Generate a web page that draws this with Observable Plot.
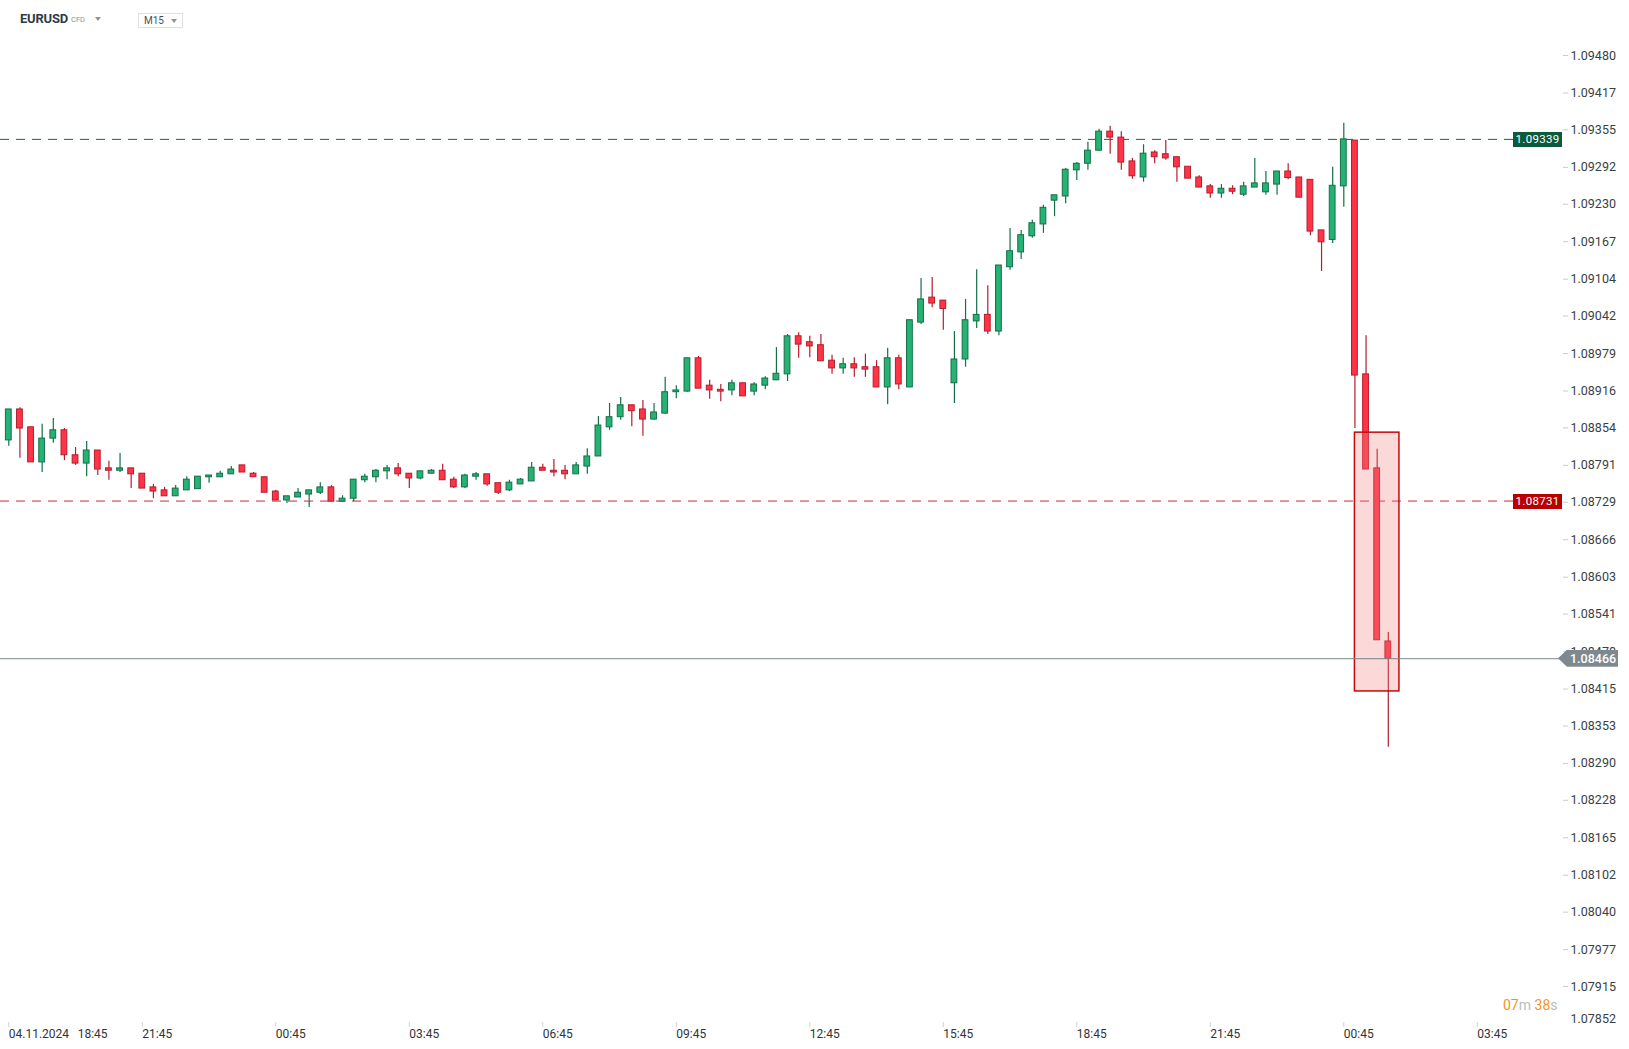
<!DOCTYPE html>
<html><head><meta charset="utf-8">
<script src="https://cdn.jsdelivr.net/npm/d3@7"></script>
<script src="https://cdn.jsdelivr.net/npm/@observablehq/plot@0.6"></script>
<style>
body{margin:0;background:#fff;font-family:Roboto,"Noto Sans",sans-serif;}
#wrap{position:relative;width:1629px;height:1049px;overflow:hidden;background:#fff;}
.ov{position:absolute;white-space:nowrap;}
.caret{position:absolute;width:0;height:0;border-left:3.5px solid transparent;border-right:3.5px solid transparent;border-top:4px solid #8c949a;}
.plabel{position:absolute;color:#fff;font-size:11.5px;text-align:center;line-height:15px;height:15px;width:49px;letter-spacing:0.3px;}
</style></head><body><div id="wrap"></div>
<script>
// ---- data (EURUSD CFD, M15) ----
const startTime = "2024-11-04T18:45:00Z";
const stepMinutes = 15;
const open = [1.08833,1.08885,1.08855,1.08796,1.08836,1.08850,1.08808,1.08794,1.08816,1.08786,
1.08782,1.08786,1.08777,1.08754,1.08749,1.08739,1.08749,1.08751,1.08771,1.08771,
1.08776,1.08791,1.08777,1.08771,1.08747,1.08732,1.08737,1.08742,1.08745,1.08754,
1.08730,1.08735,1.08766,1.08771,1.08781,1.08786,1.08777,1.08769,1.08777,1.08782,
1.08767,1.08754,1.08772,1.08776,1.08761,1.08749,1.08759,1.08764,1.08787,1.08782,
1.08782,1.08776,1.08789,1.08806,1.08855,1.08872,1.08892,1.08885,1.08868,1.08878,
1.08914,1.08915,1.08971,1.08925,1.08918,1.08917,1.08929,1.08915,1.08925,1.08934,
1.08944,1.09008,1.08998,1.08993,1.08967,1.08954,1.08961,1.08956,1.08956,1.08922,
1.08971,1.08922,1.09031,1.09073,1.09068,1.08929,1.08969,1.09033,1.09044,1.09016,
1.09124,1.09149,1.09176,1.09196,1.09236,1.09243,1.09287,1.09298,1.09320,1.09352,
1.09342,1.09302,1.09275,1.09317,1.09314,1.09309,1.09293,1.09275,1.09260,1.09248,
1.09256,1.09246,1.09258,1.09250,1.09263,1.09285,1.09275,1.09271,1.09186,1.09170,
1.09260,1.09337,1.08944,1.08786,1.08495];
const high = [1.08885,1.08888,1.08855,1.08860,1.08870,1.08853,1.08821,1.08831,1.08816,1.08798,
1.08811,1.08786,1.08777,1.08759,1.08754,1.08757,1.08772,1.08772,1.08774,1.08781,
1.08789,1.08791,1.08779,1.08771,1.08749,1.08739,1.08752,1.08749,1.08762,1.08757,
1.08740,1.08767,1.08776,1.08784,1.08791,1.08794,1.08777,1.08781,1.08784,1.08793,
1.08771,1.08776,1.08779,1.08776,1.08761,1.08766,1.08769,1.08796,1.08793,1.08801,
1.08791,1.08796,1.08819,1.08873,1.08895,1.08905,1.08892,1.08900,1.08895,1.08939,
1.08925,1.08971,1.08974,1.08934,1.08927,1.08934,1.08929,1.08930,1.08940,1.08989,
1.09011,1.09014,1.09008,1.09011,1.08976,1.08971,1.08972,1.08978,1.08967,1.08988,
1.08976,1.09035,1.09105,1.09107,1.09068,1.09016,1.09070,1.09120,1.09093,1.09127,
1.09189,1.09186,1.09203,1.09228,1.09245,1.09290,1.09300,1.09334,1.09356,1.09361,
1.09352,1.09307,1.09330,1.09320,1.09337,1.09309,1.09293,1.09278,1.09263,1.09263,
1.09261,1.09267,1.09307,1.09285,1.09285,1.09298,1.09275,1.09271,1.09186,1.09292,
1.09366,1.09337,1.09009,1.08818,1.08510];
const low = [1.08823,1.08803,1.08796,1.08779,1.08828,1.08799,1.08791,1.08772,1.08774,1.08766,
1.08779,1.08752,1.08752,1.08735,1.08739,1.08739,1.08749,1.08751,1.08761,1.08771,
1.08776,1.08779,1.08771,1.08745,1.08732,1.08727,1.08737,1.08720,1.08742,1.08729,
1.08729,1.08730,1.08762,1.08762,1.08767,1.08772,1.08752,1.08767,1.08777,1.08766,
1.08752,1.08752,1.08766,1.08756,1.08742,1.08747,1.08759,1.08764,1.08782,1.08772,
1.08767,1.08776,1.08776,1.08806,1.08850,1.08867,1.08856,1.08840,1.08867,1.08877,
1.08903,1.08914,1.08920,1.08902,1.08898,1.08908,1.08907,1.08908,1.08918,1.08934,
1.08932,1.08971,1.08972,1.08966,1.08944,1.08944,1.08939,1.08939,1.08922,1.08893,
1.08918,1.08922,1.09028,1.09056,1.09018,1.08895,1.08956,1.09021,1.09011,1.09009,
1.09119,1.09137,1.09173,1.09181,1.09209,1.09231,1.09270,1.09287,1.09319,1.09314,
1.09287,1.09272,1.09267,1.09298,1.09304,1.09267,1.09273,1.09258,1.09240,1.09240,
1.09246,1.09243,1.09258,1.09245,1.09245,1.09271,1.09241,1.09177,1.09117,1.09164,
1.09225,1.08853,1.08784,1.08497,1.08317];
const close = [1.08885,1.08853,1.08796,1.08836,1.08850,1.08808,1.08794,1.08816,1.08784,1.08782,
1.08786,1.08776,1.08752,1.08747,1.08739,1.08752,1.08767,1.08772,1.08774,1.08777,
1.08784,1.08779,1.08771,1.08745,1.08732,1.08739,1.08745,1.08749,1.08754,1.08730,
1.08735,1.08767,1.08772,1.08782,1.08786,1.08776,1.08769,1.08781,1.08782,1.08766,
1.08754,1.08774,1.08776,1.08759,1.08745,1.08762,1.08767,1.08787,1.08782,1.08779,
1.08776,1.08791,1.08806,1.08858,1.08872,1.08892,1.08882,1.08868,1.08880,1.08914,
1.08917,1.08971,1.08920,1.08917,1.08915,1.08929,1.08907,1.08927,1.08937,1.08945,
1.09008,1.08994,1.08991,1.08966,1.08954,1.08961,1.08954,1.08952,1.08922,1.08971,
1.08927,1.09035,1.09070,1.09063,1.09054,1.08969,1.09035,1.09044,1.09016,1.09127,
1.09151,1.09178,1.09198,1.09224,1.09245,1.09288,1.09298,1.09320,1.09352,1.09342,
1.09300,1.09277,1.09315,1.09309,1.09307,1.09292,1.09273,1.09258,1.09248,1.09256,
1.09251,1.09260,1.09265,1.09265,1.09285,1.09274,1.09241,1.09184,1.09166,1.09261,
1.09339,1.08942,1.08784,1.08497,1.08466];

const yTickLabels = ["1.09480","1.09417","1.09355","1.09292","1.09230","1.09167","1.09104","1.09042",
"1.08979","1.08916","1.08854","1.08791","1.08729","1.08666","1.08603","1.08541","1.08478","1.08415",
"1.08353","1.08290","1.08228","1.08165","1.08102","1.08040","1.07977","1.07915"];
const yBottomLabel = "1.07852";
const xTickCandles = [0,12,24,36,48,60,72,84,96,108,120,132];
const xTickLabels = ["04.11.2024\u2002\u200918:45","21:45","00:45","03:45","06:45","09:45","12:45","15:45","18:45","21:45","00:45","03:45"];
const levelHigh = 1.09339;
const levelLow = 1.08731;
const lastPrice = 1.08466;
const zoneCandles = [121, 125];
const zonePrices = [1.08846, 1.08411];

// ---- build ----
const t0 = new Date(startTime).getTime();
const tAt = i => new Date(t0 + i * stepMinutes * 60000);
const candles = open.map((o, i) => ({t: tAt(i), o, h: high[i], l: low[i], c: close[i], up: close[i] >= o}));
const half = 3.9 * 60000;
const upFill = "#25b274", upStroke = "#146f48", dnFill = "#ff3447", dnStroke = "#b41d2d";
const tickTimes = xTickCandles.map(tAt);
const tickMap = new Map(tickTimes.map((d, i) => [+d, xTickLabels[i]]));
const lastIdx = open.length - 1;

const chart = Plot.plot({
  width: 1629, height: 1049,
  marginLeft: 0, marginRight: 67, marginTop: 0, marginBottom: 27,
  style: {fontFamily: "Roboto, sans-serif", fontSize: "12px", background: "#fff", color: "#343a40"},
  x: {type: "utc", domain: [tAt(0), tAt(lastIdx)], range: [8.3, 8.3 + lastIdx * 11.125], label: null},
  y: {domain: [1.07915, 1.09480], range: [986, 55], label: null},
  marks: [
    Plot.ruleY([levelHigh], {stroke: "#136246", strokeWidth: 1, strokeDasharray: "9,7"}),
    Plot.ruleY([levelLow], {stroke: "#cc2a30", strokeWidth: 1, strokeDasharray: "9,7"}),
    Plot.ruleX(candles, {x: "t", y1: "l", y2: "h", stroke: d => d.up ? upStroke : dnStroke, strokeWidth: 1.2}),
    Plot.rect(candles, {
      x1: d => new Date(+d.t - half), x2: d => new Date(+d.t + half),
      y1: "o", y2: "c",
      fill: d => d.up ? upFill : dnFill, stroke: d => d.up ? upStroke : dnStroke, strokeWidth: 1
    }),
    Plot.rect([0], {
      x1: () => tAt(zoneCandles[0]), x2: () => tAt(zoneCandles[1]),
      y1: () => zonePrices[0], y2: () => zonePrices[1],
      fill: "rgb(242,128,128)", fillOpacity: 0.3, stroke: "#c40a0a", strokeWidth: 1.5
    }),
    Plot.ruleY([lastPrice], {stroke: "#7b868c", strokeWidth: 1}),
    Plot.axisY(yTickLabels.map(Number), {anchor: "right", tickSize: 5, tickPadding: 3, label: null,
      tickFormat: d => d.toFixed(5), stroke: "#c9cdd0", fill: "#3a3f44", fontSize: 12.5}),
    Plot.text([yBottomLabel], {y: d => +d, frameAnchor: "right", dx: 8, dy: -5, textAnchor: "start",
      fill: "#3a3f44", fontSize: 12.5}),
    Plot.axisX(tickTimes, {anchor: "bottom", tickSize: 5, tickPadding: 2, textAnchor: "start", label: null,
      tickFormat: d => tickMap.get(+d), stroke: "#cfd3d6", fill: "#2f3438", fontSize: 12})
  ]
});
const wrap = document.getElementById("wrap");
wrap.appendChild(chart);

const ys = chart.scale("y");
function add(html, css) {
  const el = document.createElement("div");
  el.className = "ov"; el.innerHTML = html; Object.assign(el.style, css); wrap.appendChild(el); return el;
}
// header
add("EURUSD", {left: "20px", top: "11px", fontSize: "13px", fontWeight: "700", color: "#2f3b45", letterSpacing: "-0.2px"});
add("CFD", {left: "71px", top: "14.5px", fontSize: "7.5px", color: "#8a9299"});
add('<div class="caret" style="left:0;top:0"></div>', {left: "95px", top: "17px"});
add('M15<div class="caret" style="left:32px;top:5.5px"></div>', {left: "138px", top: "12.5px", width: "38px", height: "13px",
  border: "1px solid #dde1e4", paddingLeft: "5px", fontSize: "10px", lineHeight: "13px", color: "#4a5158"});
// level labels
const hy = ys.apply(levelHigh), ly = ys.apply(levelLow), py = ys.apply(lastPrice);
const gl = add(levelHigh.toFixed(5), {left: "1513px", top: (hy - 7) + "px"}); gl.className = "plabel"; gl.style.background = "#0b5a3b";
const rl = add(levelLow.toFixed(5), {left: "1513px", top: (ly - 6.5) + "px"}); rl.className = "plabel"; rl.style.background = "#b80000";
add(lastPrice.toFixed(5), {left: "1558px", top: (py - 8.5) + "px", width: "48px", height: "17px", lineHeight: "17px",
  paddingLeft: "12px", background: "#7e898f", color: "#fff", fontSize: "12.5px", fontWeight: "500",
  clipPath: "polygon(0 50%, 9px 0, 100% 0, 100% 100%, 9px 100%)"});
// countdown
add('<span style="color:#f7941d">07</span><span style="color:#b9bdc1">m</span> <span style="color:#f7941d">38</span><span style="color:#b9bdc1">s</span>',
  {left: "1503px", top: "997px", fontSize: "14px"});
</script>
</body></html>
